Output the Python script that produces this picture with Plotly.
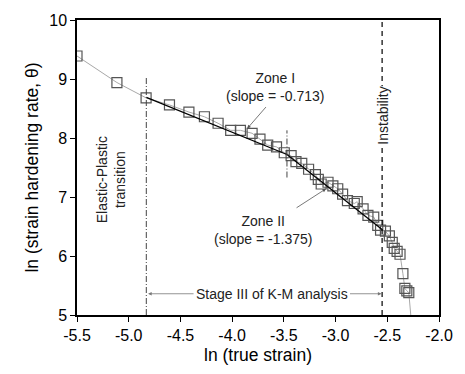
import plotly.graph_objects as go

# Data
ln_strain = [-5.50, -5.114, -4.832, -4.606, -4.418, -4.268, -4.136, -4.014, -3.920, -3.807,
             -3.731, -3.656, -3.571, -3.496, -3.430, -3.383, -3.327, -3.261, -3.195, -3.167,
             -3.139, -3.073, -3.026, -2.979, -2.932, -2.885, -2.819, -2.791, -2.734, -2.687,
             -2.631, -2.592, -2.565, -2.518, -2.480, -2.452, -2.433, -2.405, -2.377, -2.349,
             -2.330, -2.311, -2.292, -2.264]
ln_theta = [9.39, 8.94, 8.68, 8.56, 8.44, 8.36, 8.25, 8.13, 8.13, 8.08,
            7.98, 7.88, 7.85, 7.75, 7.70, 7.60, 7.57, 7.47, 7.38, 7.30,
            7.22, 7.25, 7.19, 7.14, 7.05, 6.94, 6.89, 6.92, 6.80, 6.69,
            6.66, 6.52, 6.44, 6.42, 6.34, 6.23, 6.13, 6.08, 6.03, 5.70,
            5.45, 5.41, 5.38, 4.82]

zone1_x = [-4.83, -3.47]
zone1_y = [8.69, 7.72]
zone2_x = [-3.47, -2.55]
zone2_y = [7.72, 6.45]

elastic_x = -4.83
zone_split_x = -3.47
instability_x = -2.55

x_ticks = [-5.5, -5.0, -4.5, -4.0, -3.5, -3.0, -2.5, -2.0]
y_ticks = [5, 6, 7, 8, 9, 10]

FONT = "Liberation Sans, Arial, sans-serif"

fig = go.Figure()
fig.add_trace(go.Scatter(
    x=ln_strain, y=ln_theta, mode="lines+markers",
    line=dict(color="#a8a8a8", width=1),
    marker=dict(symbol="square-open", size=10, color="#555555", line=dict(width=1.2)),
    showlegend=False))
fig.add_trace(go.Scatter(x=zone1_x, y=zone1_y, mode="lines",
                         line=dict(color="black", width=1.3), showlegend=False))
fig.add_trace(go.Scatter(x=zone2_x, y=zone2_y, mode="lines",
                         line=dict(color="black", width=1.3), showlegend=False))

fig.add_shape(type="line", x0=elastic_x, x1=elastic_x, y0=5, y1=9.02,
              line=dict(color="#444444", width=1, dash="6px,2px,1px,2px"))
fig.add_shape(type="line", x0=zone_split_x, x1=zone_split_x, y0=7.33, y1=8.13,
              line=dict(color="#444444", width=1, dash="6px,2px,1px,2px"))
fig.add_shape(type="line", x0=instability_x, x1=instability_x, y0=5, y1=10,
              line=dict(color="black", width=1.2, dash="5px,4px"))

afont = dict(family=FONT, size=14, color="#222222")
anns = [
    dict(x=-3.59, y=8.86, text="Zone I<br>(slope = -0.713)", showarrow=False, font=afont),
    dict(x=-3.703, y=6.44, text="Zone II<br>(slope = -1.375)", showarrow=False, font=afont),
    dict(x=-5.171, y=7.285, text="Elastic-Plastic<br>transition", showarrow=False,
         textangle=-90, font=afont),
    dict(x=-2.55, y=8.38, text="Instability", showarrow=False, textangle=-90,
         bgcolor="white", font=afont, borderpad=0),
    dict(x=-3.619, y=5.36, text="Stage III of K-M analysis", showarrow=False, font=afont),
    dict(x=-3.854, y=8.16, text="", showarrow=True, ax=20, ay=-23, arrowhead=2,
         arrowsize=0.9, arrowwidth=0.8, arrowcolor="#555555"),
    dict(x=-3.092, y=7.14, text="", showarrow=True, ax=-31, ay=20, arrowhead=2,
         arrowsize=0.9, arrowwidth=0.8, arrowcolor="#555555"),
    dict(x=-4.813, y=5.36, text="", showarrow=True, ax=47, ay=0, arrowhead=2,
         arrowsize=0.9, arrowwidth=0.8, arrowcolor="#777777"),
    dict(x=-2.556, y=5.36, text="", showarrow=True, ax=-33, ay=0, arrowhead=2,
         arrowsize=0.9, arrowwidth=0.8, arrowcolor="#777777"),
]
for a in anns:
    a.setdefault("xref", "x")
    a.setdefault("yref", "y")
    fig.add_annotation(**a)

axis_common = dict(showgrid=False, zeroline=False, showline=True, linecolor="black",
                   linewidth=1.5, mirror=True, ticks="outside", ticklen=5,
                   tickwidth=1.2, tickcolor="black",
                   tickfont=dict(family=FONT, size=16, color="black"))
fig.update_xaxes(range=[-5.5, -2.0], tickvals=x_ticks,
                 ticktext=[f"{v:.1f}" for v in x_ticks],
                 title=dict(text="ln (true strain)", font=dict(family=FONT, size=17.5, color="black"),
                            standoff=6), **axis_common)
fig.update_yaxes(range=[5, 10], tickvals=y_ticks,
                 title=dict(text="ln (strain hardening rate, θ)",
                            font=dict(family=FONT, size=17.5, color="black"), standoff=6),
                 **axis_common)
fig.update_layout(width=465, height=374, margin=dict(l=77, r=16, t=17, b=55),
                  plot_bgcolor="white", paper_bgcolor="white")
fig.write_html("out.html")
